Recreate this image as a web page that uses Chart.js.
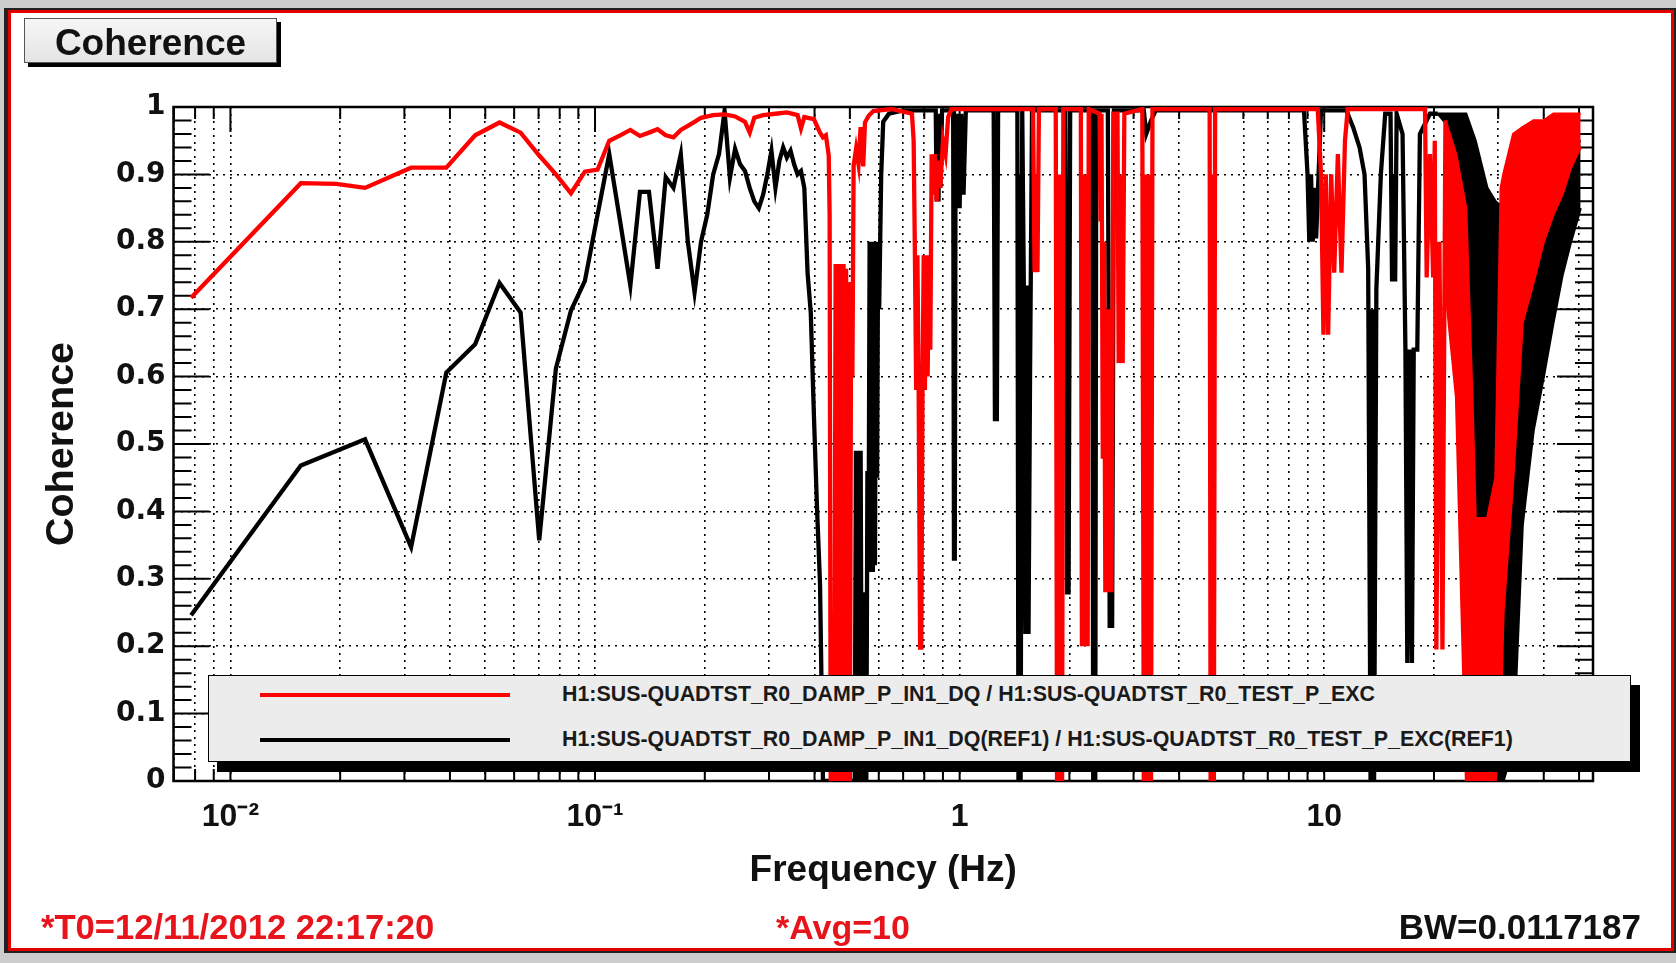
<!DOCTYPE html>
<html>
<head>
<meta charset="utf-8">
<script src="https://cdn.jsdelivr.net/npm/chart.js@4.4.1/dist/chart.umd.min.js"></script>
<style>
html,body{margin:0;padding:0;}
body{width:1676px;height:963px;position:relative;overflow:hidden;background:#cdcdcd;font-family:"Liberation Sans",Arial,sans-serif;}
#outer{position:absolute;left:4px;top:8px;width:1672px;height:945px;background:#222;}
#panel{position:absolute;left:8px;top:10px;width:1666px;height:941px;box-sizing:border-box;border:3px solid #e00000;background:#fff;}
#c{position:absolute;left:0;top:0;}
.abs{position:absolute;white-space:nowrap;}
#tshadow{left:28px;top:22px;width:253px;height:45px;background:#000;}
#tbox{left:24px;top:18px;width:253px;height:45px;box-sizing:border-box;border:1px solid #555;background:linear-gradient(#f6f6f6,#e4e4e4);}
#ttext{left:24px;width:253px;top:24px;text-align:center;font-weight:bold;font-size:37px;line-height:37px;color:#111;}
#lshadow{left:217px;top:685px;width:1423px;height:87px;background:#000;}
#lbox{left:208px;top:675px;width:1423px;height:87px;box-sizing:border-box;border:1px solid #000;background:#ececec;}
.lline{left:260px;width:250px;height:4px;}
.ltext{left:562px;font-weight:bold;font-size:21.4px;line-height:21.4px;color:#1a1a1a;}
.foot{font-weight:bold;line-height:34px;}
</style>
</head>
<body>
<div id="outer"></div>
<div id="panel"></div>
<canvas id="c" width="1676" height="963"></canvas>
<div class="abs" id="tshadow"></div>
<div class="abs" id="tbox"></div>
<div class="abs" id="ttext">Coherence</div>
<div class="abs" id="lshadow"></div>
<div class="abs" id="lbox"></div>
<div class="abs lline" style="top:693px;background:#ff0000;"></div>
<div class="abs lline" style="top:738px;background:#000;"></div>
<div class="abs ltext" id="leg0" style="top:683.5px;"></div>
<div class="abs ltext" id="leg1" style="top:728.5px;"></div>
<div class="abs foot" style="left:41px;top:910px;font-size:34.6px;color:#e8141c;">*T0=12/11/2012 22:17:20</div>
<div class="abs foot" style="left:776px;top:910px;font-size:34px;color:#e8141c;">*Avg=10</div>
<div class="abs foot" style="right:35px;top:909.5px;font-size:35px;color:#111;">BW=0.0117187</div>
<script>
// ---------------- data ----------------
const seriesNames = [
  'H1:SUS-QUADTST_R0_DAMP_P_IN1_DQ / H1:SUS-QUADTST_R0_TEST_P_EXC',
  'H1:SUS-QUADTST_R0_DAMP_P_IN1_DQ(REF1) / H1:SUS-QUADTST_R0_TEST_P_EXC(REF1)'
];
const xMajorTicks = [0.01, 0.1, 1, 10];
const xMajorLabels = ['10\u207B\u00B2', '10\u207B\u00B9', '1', '10'];
const yTickLabels = ['0','0.1','0.2','0.3','0.4','0.5','0.6','0.7','0.8','0.9','1'];

const redFreq = [
0.0078,0.0156,0.0195,0.0234,0.0313,0.0391,0.0469,0.0547,0.0625,0.0703,
0.0781,0.0859,0.0938,0.1016,0.1094,0.1172,0.1250,0.1328,0.1406,0.1484,
0.1563,0.1641,0.1719,0.1797,0.1875,0.1953,0.2109,0.2266,0.2422,0.2578,
0.2656,0.2734,0.2891,0.3125,0.3359,0.3594,0.3672,0.3750,0.3984,0.4141,
0.4219,0.4297,0.4375,0.4400,0.4430,0.4530,0.4570,0.4609,0.4650,0.4688,
0.4730,0.4766,0.4805,0.4844,0.4883,0.4922,0.4961,0.5000,0.5040,0.5080,
0.5120,0.5200,0.5280,0.5350,0.5440,0.5500,0.5630,0.5800,0.6500,0.7400,
0.7480,0.7540,0.7600,0.7660,0.7720,0.7790,0.7850,0.7910,0.7970,0.8030,
0.8100,0.8170,0.8240,0.8310,0.8380,0.8450,0.8550,0.8650,0.8750,0.8850,
0.9000,0.9150,0.9300,0.9500,1.5900,1.6050,1.6200,1.6350,1.6500,1.8350,
1.8500,1.8650,1.8800,1.8950,1.9100,1.9250,2.1500,2.1650,2.1850,2.2050,
2.2250,2.2450,2.2600,2.4200,2.4350,2.4500,2.4700,2.4900,2.5100,2.5350,
2.5600,2.5850,2.6100,2.6400,2.7100,2.7300,2.7650,2.8000,2.8300,3.1700,
3.2000,3.2400,3.2800,3.3200,3.3500,3.3800,4.8500,4.8800,4.9300,4.9800,
5.0200,9.6000,9.8000,9.9500,10.100,10.250,10.450,10.650,10.900,11.150,
11.400,11.600,18.900,19.100,19.500,19.900,20.100,20.300,20.700,21.100,
21.500
];
const redCoh = [
0.717,0.887,0.886,0.880,0.910,0.910,0.958,0.977,0.962,0.928,
0.900,0.872,0.904,0.907,0.950,0.958,0.966,0.957,0.962,0.967,
0.958,0.955,0.966,0.972,0.978,0.984,0.988,0.989,0.986,0.978,
0.962,0.984,0.988,0.990,0.992,0.988,0.968,0.985,0.982,0.962,
0.955,0.958,0.928,0.840,0.000,0.000,0.767,0.000,0.767,0.000,
0.767,0.000,0.767,0.000,0.760,0.000,0.740,0.000,0.740,0.600,
0.913,0.938,0.915,0.970,0.912,0.977,0.987,0.994,0.997,0.990,
0.950,0.780,0.580,0.780,0.580,0.198,0.198,0.580,0.780,0.580,
0.780,0.600,0.780,0.640,0.930,0.870,0.930,0.860,0.920,0.880,
0.950,0.930,0.985,0.997,0.997,0.755,0.900,0.755,0.997,0.997,
0.000,0.900,0.000,0.900,0.000,0.997,0.997,0.200,0.900,0.200,
0.900,0.200,0.997,0.990,0.830,0.990,0.478,0.800,0.280,0.700,
0.280,0.700,0.280,0.990,0.990,0.620,0.900,0.620,0.990,0.997,
0.000,0.900,0.000,0.900,0.000,0.997,0.997,0.000,0.900,0.000,
0.997,0.997,0.900,0.662,0.900,0.662,0.900,0.754,0.930,0.754,
0.950,0.997,0.997,0.747,0.930,0.747,0.950,0.195,0.800,0.195,
0.980
];

const blackFreq = [
0.0078,0.0156,0.0234,0.0313,0.0391,0.0469,0.0547,0.0625,0.0703,0.0781,
0.0859,0.0938,0.1016,0.1094,0.1172,0.1250,0.1328,0.1406,0.1484,0.1563,
0.1641,0.1719,0.1797,0.1875,0.1953,0.2031,0.2109,0.2188,0.2266,0.2344,
0.2422,0.2500,0.2578,0.2656,0.2734,0.2813,0.2891,0.2969,0.3047,0.3125,
0.3203,0.3281,0.3359,0.3438,0.3516,0.3594,0.3672,0.3750,0.3828,0.3906,
0.3984,0.4063,0.4141,0.4219,0.5156,0.5195,0.5234,0.5273,0.5313,0.5352,
0.5391,0.5430,0.5469,0.5508,0.5547,0.5586,0.5625,0.5664,0.5703,0.5742,
0.5781,0.5820,0.5859,0.5898,0.5938,0.5977,0.6016,0.6094,0.6172,0.6400,
0.7000,0.8600,0.8650,0.8700,0.8750,0.8800,0.8850,0.8950,0.9600,0.9650,
0.9700,0.9750,0.9800,0.9900,1.0000,1.0100,1.0250,1.0400,1.2400,1.2500,
1.2650,1.2750,1.4400,1.4500,1.4600,1.4700,1.4850,1.5000,1.5150,1.5300,
1.5450,1.5600,1.5800,1.9500,1.9700,1.9900,2.0100,2.3100,2.3250,2.3400,
2.3550,2.3700,2.5500,2.5800,2.6000,2.6200,2.6500,3.2000,3.2500,3.3500,
3.4500,8.8000,9.0000,9.1000,9.2000,9.3000,9.4000,9.5000,9.6500,9.8000,
11.500,12.000,12.500,12.900,13.200,13.400,13.550,13.700,13.900,14.300,
14.700,15.200,15.350,15.500,15.650,15.800,16.400,16.700,16.900,17.150,
17.400,17.600,18.000,18.300,19.500,20.500
];
const blackCoh = [
0.246,0.468,0.507,0.347,0.606,0.648,0.739,0.695,0.357,0.612,
0.698,0.742,0.840,0.930,0.830,0.735,0.874,0.874,0.760,0.896,
0.880,0.930,0.800,0.725,0.800,0.840,0.900,0.930,0.994,0.895,
0.938,0.915,0.905,0.880,0.860,0.850,0.870,0.900,0.935,0.880,
0.920,0.940,0.925,0.935,0.915,0.900,0.905,0.880,0.754,0.695,
0.543,0.405,0.293,0.000,0.000,0.490,0.000,0.490,0.000,0.490,
0.000,0.280,0.000,0.280,0.000,0.460,0.310,0.800,0.310,0.800,
0.310,0.800,0.320,0.800,0.450,0.800,0.700,0.900,0.978,0.990,
0.995,0.995,0.860,0.990,0.860,0.990,0.880,0.995,0.995,0.330,
0.330,0.990,0.850,0.990,0.850,0.990,0.870,0.995,0.995,0.537,
0.537,0.995,0.995,0.000,0.900,0.000,0.995,0.735,0.218,0.735,
0.218,0.600,0.995,0.995,0.280,0.280,0.995,0.995,0.000,0.900,
0.000,0.995,0.995,0.227,0.700,0.227,0.995,0.995,0.960,0.980,
0.995,0.995,0.900,0.800,0.900,0.800,0.880,0.805,0.900,0.995,
0.995,0.970,0.940,0.900,0.760,0.000,0.700,0.000,0.730,0.900,
0.990,0.990,0.741,0.900,0.741,0.990,0.960,0.640,0.175,0.640,
0.175,0.640,0.640,0.960,0.990,0.990
];

// dense high-frequency parts (20-50 Hz): lower / upper envelope of each trace
const redBandFreq = [21.5,23.0,24.5,25.5,26.0,28.0,29.5,30.5,31.0,33.0,35.0,37.5,40.0,42.5,45.0,47.5,50.5];
const redBandHigh = [0.98,0.93,0.85,0.56,0.39,0.39,0.45,0.88,0.90,0.96,0.97,0.98,0.98,0.99,0.99,0.99,0.99];
const redBandLow  = [0.73,0.57,0.00,0.00,0.00,0.00,0.00,0.10,0.25,0.45,0.68,0.74,0.80,0.84,0.87,0.91,0.94];
const blackBandFreq = [20.5,22.0,23.0,24.5,26.0,28.0,29.5,31.0,33.0,35.0,37.5,40.0,42.5,45.0,47.5,50.5];
const blackBandHigh = [0.99,0.99,0.99,0.99,0.95,0.88,0.86,0.85,0.90,0.90,0.90,0.92,0.93,0.94,0.95,0.95];
const blackBandLow  = [0.99,0.97,0.93,0.85,0.39,0.30,0.00,0.00,0.05,0.38,0.52,0.60,0.68,0.75,0.80,0.85];

// ---------------- chart ----------------
document.getElementById('leg0').textContent = seriesNames[0];
document.getElementById('leg1').textContent = seriesNames[1];

const RED = '#ff0000', BLACK = '#000000';
const xMin = 0.00698, xMax = 54.6;
const xGridTicks = [];
for (let e = -3; e <= 1; e++) for (let m = 1; m <= 9; m++) {
  const v = +(m * Math.pow(10, e)).toPrecision(3);
  if (v > xMin && v < xMax) xGridTicks.push(v);
}
const isDecade = v => xMajorTicks.some(t => Math.abs(t - v) / t < 1e-6);
const pts = (fs, vs) => fs.map((f, i) => ({x: f, y: vs[i]}));

const frameTicks = {
  id: 'frameTicks',
  beforeDatasetsDraw(chart) {
    const {ctx, chartArea: a, scales} = chart;
    const xs = scales.x, ys = scales.y;
    ctx.save();
    ctx.strokeStyle = '#000';
    ctx.lineWidth = 2;
    ctx.beginPath();
    for (let i = 0; i <= 50; i++) {
      const py = ys.getPixelForValue(i / 50);
      const len = (i % 5 === 0) ? 36 : 18;
      ctx.moveTo(a.left, py); ctx.lineTo(a.left + len, py);
      ctx.moveTo(a.right, py); ctx.lineTo(a.right - len, py);
    }
    xGridTicks.forEach(v => {
      const px = xs.getPixelForValue(v);
      const len = isDecade(v) ? 25 : 12;
      ctx.moveTo(px, a.top); ctx.lineTo(px, a.top + len);
      ctx.moveTo(px, a.bottom); ctx.lineTo(px, a.bottom - len);
    });
    ctx.stroke();
    ctx.lineWidth = 2.5;
    ctx.strokeRect(a.left, a.top, a.right - a.left, a.bottom - a.top);
    ctx.restore();
  }
};

const lineDs = (label, data, color) => ({
  label, data, borderColor: color, backgroundColor: color,
  borderWidth: 4.3, pointRadius: 0, tension: 0, fill: false
});

new Chart(document.getElementById('c'), {
  type: 'line',
  data: {
    datasets: [
      lineDs(seriesNames[0], pts(redFreq, redCoh), RED),
      Object.assign(lineDs('', pts(redBandFreq, redBandLow), RED), {borderWidth: 2.5}),
      Object.assign(lineDs('', pts(redBandFreq, redBandHigh), RED), {borderWidth: 2.5, fill: '-1'}),
      lineDs(seriesNames[1], pts(blackFreq, blackCoh), BLACK),
      Object.assign(lineDs('', pts(blackBandFreq, blackBandLow), BLACK), {borderWidth: 2.5}),
      Object.assign(lineDs('', pts(blackBandFreq, blackBandHigh), BLACK), {borderWidth: 2.5, fill: '-1'})
    ]
  },
  options: {
    responsive: false,
    animation: false,
    events: [],
    layout: {padding: {left: 20, top: 107, right: 83, bottom: 72}},
    plugins: {legend: {display: false}, tooltip: {enabled: false}},
    scales: {
      x: {
        type: 'logarithmic', min: xMin, max: xMax, bounds: 'data',
        afterBuildTicks: s => { s.ticks = xGridTicks.map(v => ({value: v})); },
        afterFit: s => { s.height = 110; },
        ticks: {
          autoSkip: false, maxRotation: 0, minRotation: 0, padding: 20,
          color: '#111', font: {family: '"Liberation Sans", Arial, sans-serif', size: 32, weight: 'bold', lineHeight: 1},
          callback: (v) => { const i = xMajorTicks.findIndex(t => Math.abs(t - v) / t < 1e-6); return i >= 0 ? xMajorLabels[i] : ''; }
        },
        grid: {drawTicks: false, color: '#000', lineWidth: 1.6},
        border: {display: false, dash: [2, 5]},
        title: {display: true, text: 'Frequency (Hz)', color: '#111',
          font: {family: '"Liberation Sans", Arial, sans-serif', size: 37, weight: 'bold', lineHeight: 1}, padding: {top: 0, bottom: 2}}
      },
      y: {
        type: 'linear', min: 0, max: 1,
        afterFit: s => { s.width = 153.5; },
        ticks: {
          stepSize: 0.1, padding: 8, color: '#111',
          font: {family: '"DejaVu Sans", sans-serif', size: 28, weight: 'bold', lineHeight: 1},
          callback: (v) => yTickLabels[Math.round(v * 10)]
        },
        grid: {drawTicks: false, color: '#000', lineWidth: 1.6},
        border: {display: false, dash: [2, 5]},
        title: {display: true, text: 'Coherence', color: '#111',
          font: {family: '"Liberation Sans", Arial, sans-serif', size: 39.5, weight: 'bold', lineHeight: 1}, padding: {top: 22, bottom: 0}}
      }
    }
  },
  plugins: [frameTicks]
});
</script>
</body>
</html>
